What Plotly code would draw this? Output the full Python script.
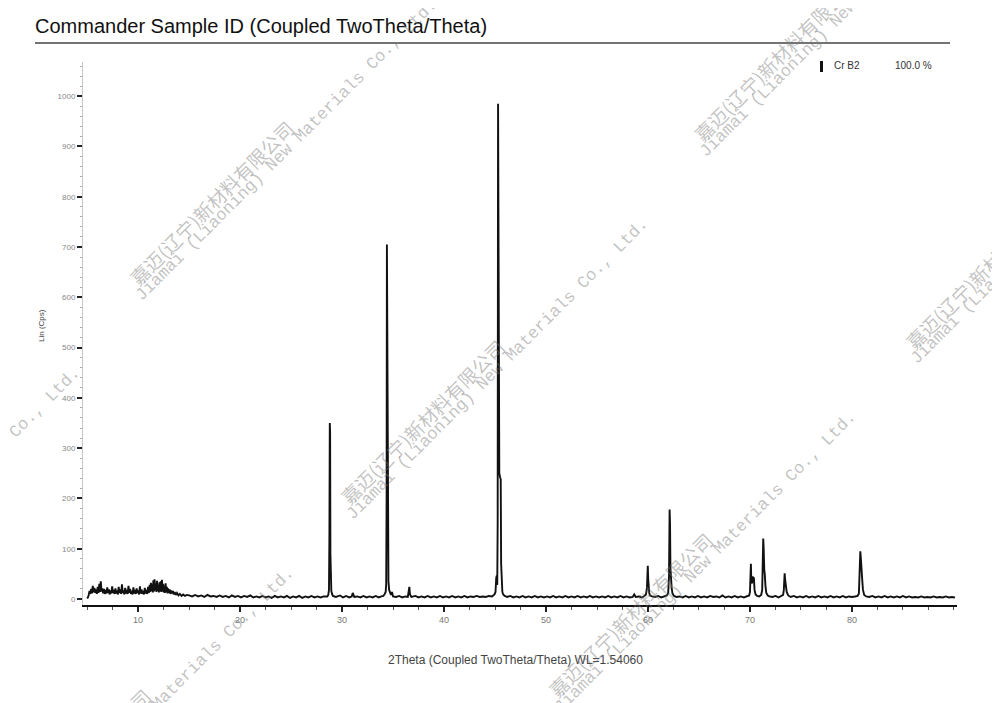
import plotly.graph_objects as go

# ---------------- data ----------------
# low-angle noisy region
low_2theta = [5.00, 5.08, 5.16, 5.24, 5.32, 5.40, 5.48, 5.56, 5.64, 5.72, 5.80, 5.88,
              5.96, 6.04, 6.12, 6.20, 6.26, 6.34, 6.42, 6.50, 6.58, 6.66, 6.74, 6.82,
              6.90, 6.98, 7.06, 7.14, 7.22, 7.30, 7.38, 7.46, 7.54, 7.62, 7.70, 7.78,
              7.86, 7.94, 8.02, 8.10, 8.18, 8.26, 8.34, 8.42, 8.50, 8.58, 8.66, 8.74,
              8.82, 8.90, 8.98, 9.06, 9.14, 9.22, 9.30, 9.38, 9.46, 9.54, 9.62, 9.70,
              9.78, 9.86, 9.94, 10.02, 10.10, 10.18, 10.26, 10.34, 10.42, 10.50, 10.58, 10.66,
              10.74, 10.82, 10.90, 10.98, 11.06, 11.14, 11.20, 11.26, 11.32, 11.38, 11.44, 11.50,
              11.56, 11.62, 11.68, 11.74, 11.80, 11.86, 11.92, 11.98, 12.04, 12.10, 12.16, 12.22,
              12.28, 12.34, 12.40, 12.46, 12.52, 12.58, 12.64, 12.70, 12.76, 12.82, 12.88, 12.94,
              13.02, 13.10, 13.18, 13.26, 13.34, 13.42, 13.50, 13.60, 13.70, 13.82, 13.96, 14.10,
              14.26, 14.42, 14.60, 14.80]
low_counts = [1, 3, 8, 16, 10, 20, 11, 26, 13, 22, 12, 19,
              10, 24, 12, 30, 14, 35, 15, 21, 11, 20, 10, 18,
              11, 23, 12, 19, 9, 17, 11, 25, 12, 18, 10, 21,
              11, 17, 9, 24, 12, 19, 10, 29, 12, 17, 9, 22,
              11, 18, 10, 26, 12, 20, 10, 16, 9, 23, 11, 18,
              10, 21, 12, 17, 9, 25, 11, 19, 10, 16, 9, 22,
              11, 18, 10, 24, 12, 28, 14, 32, 16, 29, 13, 37,
              15, 39, 17, 31, 14, 36, 16, 28, 13, 33, 15, 35,
              14, 38, 15, 30, 13, 26, 12, 31, 14, 24, 11, 21,
              12, 19, 10, 17, 11, 16, 9, 14, 8, 12, 7, 10,
              6, 9, 6, 8]

# baseline up to the first reflections
mid_2theta = [15.0, 15.3, 15.6, 15.9, 16.2, 16.5, 16.8, 17.1, 17.4, 17.7, 18.0, 18.3,
              18.6, 18.9, 19.2, 19.5, 19.8, 20.1, 20.4, 20.7, 21.0, 21.3, 21.6, 21.9,
              22.2, 22.5, 22.8, 23.1, 23.4, 23.7, 24.0, 24.3, 24.6, 24.9, 25.2, 25.5,
              25.8, 26.1, 26.4, 26.7, 27.0, 27.3, 27.6, 27.9, 28.2, 28.45, 28.55,
              28.65, 28.72, 28.76, 28.80, 28.83, 28.86, 28.90, 28.95, 29.02, 29.10,
              29.4, 29.8, 30.1, 30.4, 30.7, 30.95, 31.05, 31.2, 31.5, 31.8, 32.1, 32.4,
              32.7, 33.0, 33.3, 33.6, 33.85, 34.05, 34.18,
              34.28, 34.33, 34.37, 34.40, 34.43, 34.46, 34.50, 34.55, 34.62, 34.70, 34.80,
              34.90, 35.00, 35.3, 35.6, 35.9, 36.2, 36.45, 36.55, 36.60, 36.66, 36.80,
              37.2, 37.5, 37.8, 38.1, 38.4, 38.7, 39.0, 39.3, 39.6, 39.9, 40.2, 40.5,
              40.8, 41.1, 41.4, 41.7, 42.0, 42.3, 42.6, 42.9, 43.2, 43.5, 43.8, 44.1,
              44.4, 44.7, 44.95]
mid_counts = [7, 5, 8, 5, 7, 4, 8, 5, 6, 4, 7, 4,
              6, 3, 7, 4, 6, 3, 6, 4, 7, 3, 5, 3,
              6, 3, 5, 2, 6, 3, 5, 3, 6, 2, 5, 3,
              6, 2, 5, 3, 6, 3, 5, 3, 5, 4, 5,
              8, 18, 120, 350, 330, 90, 28, 16, 10, 6,
              4, 7, 3, 6, 3, 5, 12, 4, 5, 3, 6, 3,
              5, 3, 6, 3, 5, 6, 10,
              14, 30, 200, 705, 440, 420, 90, 35, 18, 12, 8,
              14, 5, 4, 6, 3, 5, 4, 18, 24, 9, 4,
              6, 3, 5, 3, 6, 3, 5, 3, 6, 3, 5, 3,
              6, 3, 5, 3, 6, 3, 5, 4, 6, 4, 5, 4,
              6, 5, 9]

# strongest reflection
main_2theta = [45.05, 45.12, 45.17, 45.22, 45.26, 45.30, 45.33, 45.39, 45.42, 45.50,
               45.56, 45.60, 45.65, 45.72, 45.80, 45.95]
main_counts = [14, 42, 46, 28, 150, 985, 590, 578, 250, 242,
               238, 70, 25, 14, 9, 6]

# high-angle region with the weaker reflections
high_2theta = [46.2, 46.5, 46.8, 47.1, 47.4, 47.7, 48.0, 48.3, 48.6, 48.9, 49.2, 49.5,
               49.8, 50.1, 50.4, 50.7, 51.0, 51.3, 51.6, 51.9, 52.2, 52.5, 52.8, 53.1,
               53.4, 53.7, 54.0, 54.3, 54.6, 54.9, 55.2, 55.5, 55.8, 56.1, 56.4, 56.7,
               57.0, 57.3, 57.6, 57.9, 58.2, 58.5, 58.65, 58.8, 59.1, 59.4, 59.65,
               59.80, 59.90, 59.95, 59.98, 60.02, 60.07, 60.12, 60.20, 60.40,
               60.7, 61.0, 61.3, 61.6, 61.85, 61.98, 62.06, 62.12, 62.16, 62.20,
               62.26, 62.32, 62.40, 62.55, 62.8, 63.1, 63.4, 63.7, 64.0, 64.3,
               64.6, 64.9, 65.2, 65.5, 65.8, 66.1, 66.4, 66.7, 67.0, 67.3, 67.6, 67.9,
               68.2, 68.5, 68.8, 69.1, 69.4, 69.7, 69.92, 70.00, 70.05, 70.09, 70.13,
               70.20, 70.27, 70.32, 70.38, 70.45, 70.55, 70.70, 70.90, 71.10, 71.20,
               71.26, 71.30, 71.34, 71.40, 71.45, 71.52, 71.60, 71.75, 71.9, 72.2,
               72.5, 72.8, 73.05, 73.25, 73.32, 73.36, 73.40, 73.45, 73.52, 73.60,
               73.75, 74.0, 74.3, 74.6, 74.9, 75.2, 75.5, 75.8, 76.1, 76.4, 76.7,
               77.0, 77.3, 77.6, 77.9, 78.2, 78.5, 78.8, 79.1, 79.4, 79.7, 80.0,
               80.3, 80.55, 80.68, 80.76, 80.82, 80.87, 80.93, 81.00, 81.08, 81.20,
               81.40, 81.7, 82.0, 82.3, 82.6, 82.9, 83.2, 83.5, 83.8, 84.1, 84.4,
               84.7, 85.0, 85.3, 85.6, 85.9, 86.2, 86.5, 86.8, 87.1, 87.4, 87.7,
               88.0, 88.3, 88.6, 88.9, 89.2, 89.5, 89.8, 90.1]
high_counts = [4, 6, 3, 5, 3, 6, 3, 5, 3, 6, 3, 5,
               3, 5, 3, 6, 3, 5, 3, 6, 3, 5, 3, 6,
               3, 5, 3, 6, 3, 5, 3, 5, 3, 6, 3, 5,
               3, 6, 3, 5, 3, 4, 9, 4, 5, 3, 6,
               9, 22, 58, 66, 40, 22, 12, 7, 5,
               4, 6, 3, 5, 7, 12, 45, 178, 150, 62,
               32, 22, 11, 6, 4, 5, 3, 6, 3, 5,
               3, 6, 3, 5, 3, 6, 4, 5, 3, 7, 3, 5,
               3, 6, 3, 5, 3, 6, 7, 14, 52, 70, 36,
               31, 45, 40, 43, 18, 9, 6, 5, 8, 18,
               82, 120, 102, 58, 50, 26, 12, 7, 5, 4,
               6, 3, 6, 8, 18, 40, 51, 38, 26, 14,
               7, 4, 6, 3, 5, 3, 6, 3, 5, 3, 6,
               3, 5, 3, 6, 3, 5, 3, 6, 3, 5, 4,
               5, 6, 11, 52, 95, 82, 46, 40, 18, 8,
               5, 4, 6, 3, 5, 3, 6, 3, 5, 3, 5,
               3, 6, 3, 5, 3, 4, 3, 5, 3, 4, 3,
               5, 3, 4, 3, 5, 3, 4, 3]

x_tick_values = [10, 20, 30, 40, 50, 60, 70, 80]
y_tick_values = [0, 100, 200, 300, 400, 500, 600, 700, 800, 900, 1000]

phase_name = "Cr B2"
phase_fraction = "100.0 %"

two_theta = low_2theta + mid_2theta + main_2theta + high_2theta
counts = low_counts + mid_counts + main_counts + high_counts

# ---------------- layout geometry ----------------
# the page body adds an 8 px offset, so the figure is drawn 8 px smaller
OFF = 8
W, H = 1000 - OFF, 703 - OFF
ML, MT = 83 - OFF, 62 - OFF
PLOT_R, PLOT_B = 957 - OFF, 605 - OFF
MR, MB = W - PLOT_R, H - PLOT_B
PW, PH = PLOT_R - ML, PLOT_B - MT


def px(xp):
    """reference-screen x pixel -> paper fraction"""
    return (xp - OFF - ML) / PW


def py(yp):
    """reference-screen y pixel -> paper fraction"""
    return (PLOT_B - (yp - OFF)) / PH


fig = go.Figure()
fig.add_trace(go.Scatter(
    x=two_theta, y=counts, mode="lines",
    line=dict(color="#111111", width=1.9),
    showlegend=False, hoverinfo="skip"))

fig.update_layout(
    width=W, height=H,
    margin=dict(l=ML, r=MR, t=MT, b=MB),
    paper_bgcolor="white", plot_bgcolor="white",
    font=dict(family="Liberation Sans, Arial, sans-serif", color="#333"),
    title=dict(text="Commander Sample ID (Coupled TwoTheta/Theta)",
               x=(35 - OFF) / W, xref="container", xanchor="left",
               y=1 - (26 - OFF) / H, yref="container", yanchor="middle",
               font=dict(size=20, color="#111111",
                         family="Liberation Sans, Arial, sans-serif")),
    showlegend=False,
)

fig.update_xaxes(
    range=[4.6, 90.3], tickvals=x_tick_values,
    ticktext=[str(v) for v in x_tick_values],
    showgrid=False, zeroline=False,
    showline=True, linecolor="#111", linewidth=1.6,
    ticks="outside", ticklen=5, tickwidth=1.5, tickcolor="#222",
    tickfont=dict(size=9, color="#777"),
    minor=dict(dtick=2.5, ticks="outside", ticklen=3, tickcolor="#555", tickwidth=1),
)
fig.update_yaxes(
    range=[-12, 1068], tickvals=y_tick_values,
    ticktext=[str(v) for v in y_tick_values],
    showgrid=False, zeroline=False,
    showline=True, linecolor="#c8c8c8", linewidth=1,
    ticks="outside", ticklen=5, tickwidth=2, tickcolor="#222",
    tickfont=dict(size=8, color="#888"),
    minor=dict(dtick=20, ticks="outside", ticklen=2, tickcolor="#aaa", tickwidth=1),
)

annotations = []
# axis titles
annotations.append(dict(
    text="2Theta (Coupled TwoTheta/Theta) WL=1.54060",
    x=px(515), y=py(660), xref="paper", yref="paper",
    xanchor="center", yanchor="middle", showarrow=False,
    font=dict(size=12, color="#444")))
annotations.append(dict(
    text="Lin (Cps)", textangle=-90,
    x=px(41), y=py(326), xref="paper", yref="paper",
    xanchor="center", yanchor="middle", showarrow=False,
    font=dict(size=8, color="#444")))
# phase legend
annotations.append(dict(
    text=phase_name, x=px(832), y=py(66), xref="paper", yref="paper",
    xanchor="left", yanchor="middle", showarrow=False,
    font=dict(size=10, color="#333")))
annotations.append(dict(
    text=phase_fraction, x=px(893), y=py(66), xref="paper", yref="paper",
    xanchor="left", yanchor="middle", showarrow=False,
    font=dict(size=10, color="#333")))

# watermarks
wm_cn = "嘉迈(辽宁)新材料有限公司"
wm_en = "Jiamai (Liaoning) New Materials Co., Ltd."
wm_color = "rgba(120,120,120,0.45)"
cn_centers = [(211, 202), (422, 421), (630, 614), (776, 59), (987, 266), (-146, 570), (68, 770)]
for cx, cy in cn_centers:
    annotations.append(dict(
        text=wm_cn, textangle=-45, x=px(cx), y=py(cy), xref="paper", yref="paper",
        xanchor="center", yanchor="middle", showarrow=False,
        font=dict(size=19, color=wm_color, family="Noto Sans CJK SC")))
    annotations.append(dict(
        text=wm_en, textangle=-45, x=px(cx + 75), y=py(cy - 52), xref="paper", yref="paper",
        xanchor="center", yanchor="middle", showarrow=False,
        font=dict(size=17, color=wm_color, family="Liberation Mono, DejaVu Sans Mono, monospace")))

fig.update_layout(annotations=annotations)

shapes = [
    # title underline
    dict(type="line", xref="paper", yref="paper",
         x0=px(35), x1=px(950), y0=py(43), y1=py(43),
         line=dict(color="#444", width=1.5)),
    # phase legend marker
    dict(type="rect", xref="paper", yref="paper",
         x0=px(820), x1=px(823), y0=py(72), y1=py(61),
         fillcolor="#111", line=dict(width=0)),
]
fig.update_layout(shapes=shapes)

fig.write_html("out.html")
